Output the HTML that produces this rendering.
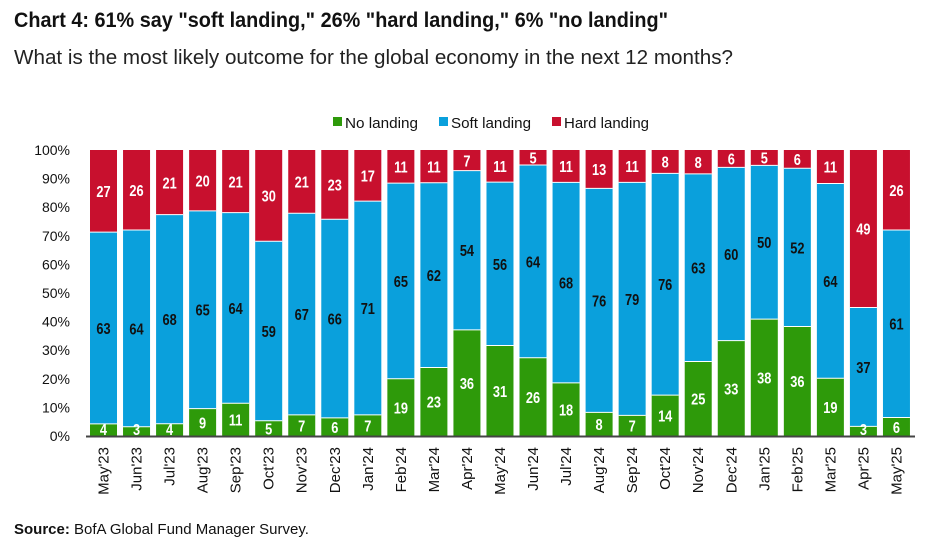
<!DOCTYPE html>
<html><head><meta charset="utf-8"><style>
html,body{margin:0;padding:0;background:#fff;}
svg{display:block;font-family:"Liberation Sans",Arial,sans-serif;}
</style></head><body>
<svg id="s" width="928" height="542" viewBox="0 0 928 542" xmlns="http://www.w3.org/2000/svg">
<text x="14" y="27" font-size="21" font-weight="bold" fill="#111" textLength="654" lengthAdjust="spacingAndGlyphs">Chart 4: 61% say "soft landing," 26% "hard landing," 6% "no landing"</text>
<text x="14" y="64" font-size="20" fill="#222" textLength="719" lengthAdjust="spacingAndGlyphs">What is the most likely outcome for the global economy in the next 12 months?</text>
<rect x="333" y="117" width="9" height="9" fill="#2e9a0a"/>
<text x="345" y="128" font-size="15" fill="#111" textLength="73" lengthAdjust="spacingAndGlyphs">No landing</text>
<rect x="439" y="117" width="9" height="9" fill="#0aa0dc"/>
<text x="451" y="128" font-size="15" fill="#111" textLength="80" lengthAdjust="spacingAndGlyphs">Soft landing</text>
<rect x="552" y="117" width="9" height="9" fill="#c8102e"/>
<text x="564" y="128" font-size="15" fill="#111" textLength="85" lengthAdjust="spacingAndGlyphs">Hard landing</text>
<g id="g"></g>
<line x1="86" y1="436.5" x2="915" y2="436.5" stroke="#444" stroke-width="2"/>
<text x="14" y="534" font-size="15" fill="#111"><tspan font-weight="bold">Source:</tspan> BofA Global Fund Manager Survey.</text>
</svg>
<script>
(function(){
var m=["May'23","Jun'23","Jul'23","Aug'23","Sep'23","Oct'23","Nov'23","Dec'23","Jan'24","Feb'24","Mar'24","Apr'24","May'24","Jun'24","Jul'24","Aug'24","Sep'24","Oct'24","Nov'24","Dec'24","Jan'25","Feb'25","Mar'25","Apr'25","May'25"];
var G=[4,3,4,9,11,5,7,6,7,19,23,36,31,26,18,8,7,14,25,33,38,36,19,3,6];
var B=[63,64,68,65,64,59,67,66,71,65,62,54,56,64,68,76,79,76,63,60,50,52,64,37,61];
var R=[27,26,21,20,21,30,21,23,17,11,11,7,11,5,11,13,11,8,8,6,5,6,11,49,26];
var s='',T=150,bot=436,H=bot-T;
for(var p=0;p<=100;p+=10){var y=bot-H*p/100;s+='<text x="70" y="'+(y+5)+'" font-size="14" text-anchor="end" fill="#111">'+p+'%</text>';}
function lab(cx,y,v,c){return '<text x="'+cx+'" y="'+y+'" font-size="16" font-weight="bold" text-anchor="middle" fill="'+c+'" transform="translate('+cx+' 0) scale(0.8 1) translate('+(-cx)+' 0)">'+v+'</text>';}
for(var i=0;i<25;i++){
 var x=90+i*33.04,w=27,t=G[i]+B[i]+R[i];
 var yg=bot-H*G[i]/t,yb=bot-H*(G[i]+B[i])/t,cx=x+w/2;
 s+='<rect x="'+x+'" y="'+T+'" width="'+w+'" height="'+(yb-T)+'" fill="#c8102e"/>';
 s+='<rect x="'+x+'" y="'+yb+'" width="'+w+'" height="'+(yg-yb)+'" fill="#0aa0dc"/>';
 s+='<rect x="'+x+'" y="'+yg+'" width="'+w+'" height="'+(bot-yg)+'" fill="#2e9a0a"/>';
 s+='<line x1="'+x+'" x2="'+(x+w)+'" y1="'+yb+'" y2="'+yb+'" stroke="#fff" stroke-width="1"/>';
 s+='<line x1="'+x+'" x2="'+(x+w)+'" y1="'+yg+'" y2="'+yg+'" stroke="#fff" stroke-width="1"/>';
 var ly=Math.min((yg+bot)/2+6,bot-1);
 s+=lab(cx,ly,G[i],'#fff');
 s+=lab(cx,(yg+yb)/2+6,B[i],'#111');
 s+=lab(cx,(yb+T)/2+6,R[i],'#fff');
 s+='<text transform="translate('+(cx+5)+' 447) rotate(-90)" font-size="15" text-anchor="end" fill="#111">'+m[i]+'</text>';
}
document.getElementById('g').innerHTML=s;
})();
</script>
</body></html>
